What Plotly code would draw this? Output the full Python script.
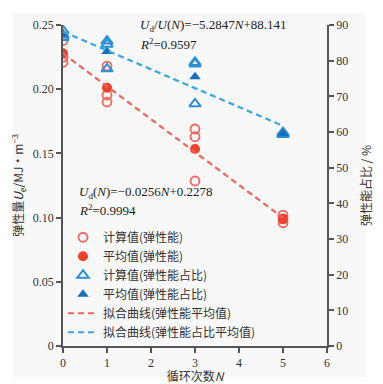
import plotly.graph_objects as go

# Data
N_calc = [0, 0, 0, 1, 1, 1, 3, 3, 3, 5, 5, 5]
energy_calc = [0.238, 0.225, 0.221, 0.218, 0.1955, 0.190, 0.169, 0.163, 0.1285, 0.102, 0.099, 0.096]
N_mean = [0, 1, 3, 5]
energy_mean = [0.228, 0.2012, 0.1534, 0.099]
ratio_calc = [88.4, 87.2, 86.5, 85.5, 84.6, 77.7, 79.5, 79.1, 67.9, 59.8, 59.5, 59.3]
ratio_mean = [87.4, 82.6, 75.5, 59.5]
fit_N = [0, 5]
energy_fit = [0.2278 - 0.0256 * n for n in fit_N]
ratio_fit = [88.141 - 5.2847 * n for n in fit_N]

x_ticks = [0, 1, 2, 3, 4, 5, 6]
left_ticks = [0, 0.05, 0.10, 0.15, 0.20, 0.25]
left_ticktext = ["0", "0.05", "0.10", "0.15", "0.20", "0.25"]
right_ticks = [0, 10, 20, 30, 40, 50, 60, 70, 80, 90]

RED_OPEN = "#f2645c"
RED_FILL = "#e9432d"
BLUE_OPEN = "#2b8fd6"
BLUE_FILL = "#1670bf"
RED_LINE = "#f2625a"
BLUE_LINE = "#3aa6df"
SERIF = "Liberation Serif"
CJK = "Noto Sans CJK SC"

fig = go.Figure()
fig.add_trace(go.Scatter(x=N_calc, y=energy_calc, mode="markers", name="计算值(弹性能)",
                         marker=dict(symbol="circle-open", size=9, color=RED_OPEN, line=dict(width=1.8))))
fig.add_trace(go.Scatter(x=N_mean, y=energy_mean, mode="markers", name="平均值(弹性能)",
                         marker=dict(symbol="circle", size=10, color=RED_FILL)))
fig.add_trace(go.Scatter(x=N_calc, y=ratio_calc, mode="markers", name="计算值(弹性能占比)", yaxis="y2",
                         marker=dict(symbol="triangle-up-open", size=10, color=BLUE_OPEN, line=dict(width=2))))
fig.add_trace(go.Scatter(x=N_mean, y=ratio_mean, mode="markers", name="平均值(弹性能占比)", yaxis="y2",
                         marker=dict(symbol="triangle-up", size=10, color=BLUE_FILL)))
fig.add_trace(go.Scatter(x=fit_N, y=energy_fit, mode="lines", name="拟合曲线(弹性能平均值)",
                         line=dict(color=RED_LINE, width=2.2, dash="6px,4px")))
fig.add_trace(go.Scatter(x=fit_N, y=ratio_fit, mode="lines", name="拟合曲线(弹性能占比平均值)", yaxis="y2",
                         line=dict(color=BLUE_LINE, width=2.2, dash="6px,4px")))

axis_common = dict(showgrid=False, zeroline=False, showline=True, linecolor="#555", linewidth=1.5,
                   ticks="outside", ticklen=5, tickwidth=1.5, tickcolor="#555", automargin=False,
                   tickfont=dict(family=SERIF, size=12, color="#333"))

fig.update_layout(
    width=375, height=376,
    margin=dict(l=55, r=56, t=17, b=38),
    paper_bgcolor="white", plot_bgcolor="#fafafa",
    font=dict(family=CJK, size=12, color="#333"),
    xaxis=dict(range=[0, 6], tickvals=x_ticks, **axis_common,
               title=dict(text="循环次数<i>N</i>", font=dict(family=CJK, size=12, color="#333"))),
    yaxis=dict(range=[0, 0.25], tickvals=left_ticks, ticktext=left_ticktext, **axis_common,
               title=dict(text="弹性量<i>U</i><sub>e</sub>/MJ·m<sup>−3</sup>", font=dict(family=CJK, size=12, color="#333"))),
    yaxis2=dict(range=[0, 90], tickvals=right_ticks, overlaying="y", side="right", anchor="x", **axis_common,
                title=dict(text="弹性能占比 / %", font=dict(family=CJK, size=12, color="#333"))),
    legend=dict(x=0.0, y=0.384, xanchor="left", yanchor="top", bgcolor="rgba(0,0,0,0)",
                font=dict(family=CJK, size=12, color="#333"), tracegroupgap=0, itemwidth=30),
    showlegend=True,
)

fig.add_shape(type="rect", xref="paper", yref="paper", x0=-0.189, x1=1.148, y0=-0.097, y1=1.037,
              fillcolor="#f8f8f8", line=dict(width=0), layer="below")

fig.add_annotation(x=0.285, y=1.0, xref="paper", yref="paper", xanchor="left", yanchor="middle", showarrow=False,
                   text="<i>U</i><sub>d</sub>/<i>U</i>(<i>N</i>)=−5.2847<i>N</i>+88.141",
                   font=dict(family=SERIF, size=13, color="#222"))
fig.add_annotation(x=0.285, y=0.942, xref="paper", yref="paper", xanchor="left", yanchor="middle", showarrow=False,
                   text="<i>R</i><sup>2</sup>=0.9597", font=dict(family=SERIF, size=13, color="#222"))
fig.add_annotation(x=0.053, y=0.477, xref="paper", yref="paper", xanchor="left", yanchor="middle", showarrow=False,
                   text="<i>U</i><sub>d</sub>(<i>N</i>)=−0.0256<i>N</i>+0.2278",
                   font=dict(family=SERIF, size=13, color="#222"))
fig.add_annotation(x=0.053, y=0.424, xref="paper", yref="paper", xanchor="left", yanchor="middle", showarrow=False,
                   text="<i>R</i><sup>2</sup>=0.9994", font=dict(family=SERIF, size=13, color="#222"))

fig.write_html("out.html")
